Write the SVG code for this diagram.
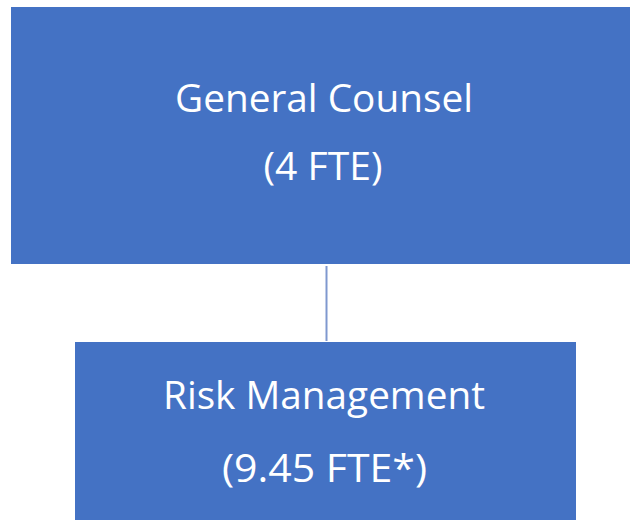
<svg xmlns="http://www.w3.org/2000/svg" width="630" height="520" viewBox="0 0 630 520">
  <style>
    .box { fill: #4472C4; }
    .lbl { fill: #FFFFFF; font-family: "Open Sans", "Liberation Sans", sans-serif; font-size: 38px; text-anchor: middle; }
    .conn { stroke: #7F98CF; stroke-width: 2; fill: none; }
  </style>
  <rect width="630" height="520" fill="#FFFFFF"/>
  <g id="connectors">
    <line class="conn" x1="326.5" y1="266" x2="326.5" y2="341"/>
  </g>
  <g id="general-counsel">
    <rect class="box" x="11" y="7" width="630" height="257"/>
    <text class="lbl" x="324" y="112" textLength="298" lengthAdjust="spacingAndGlyphs">General Counsel</text>
    <text class="lbl" x="323" y="180" textLength="119" lengthAdjust="spacingAndGlyphs">(4 FTE)</text>
  </g>
  <g id="risk-management">
    <rect class="box" x="75" y="342" width="501" height="190"/>
    <text class="lbl" x="324" y="409" textLength="322" lengthAdjust="spacingAndGlyphs">Risk Management</text>
    <text class="lbl" x="324.5" y="482" textLength="205" lengthAdjust="spacingAndGlyphs">(9.45 FTE*)</text>
  </g>
</svg>
